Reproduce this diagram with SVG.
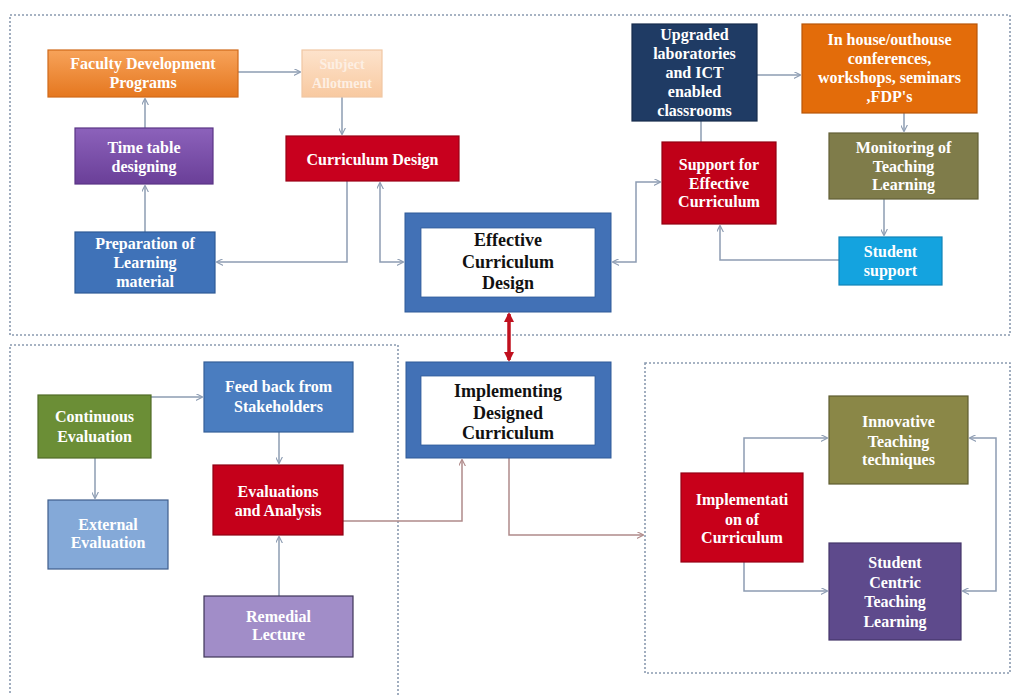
<svg xmlns="http://www.w3.org/2000/svg" width="1013" height="695" viewBox="0 0 1013 695">
<style>
.region{fill:none;stroke:#8a9ab0;stroke-width:1.6;stroke-dasharray:2 2}
.box{stroke-width:1.2}
.t{font-family:"Liberation Serif","Times New Roman",serif;font-weight:bold;font-size:16px;fill:#ffffff;text-anchor:middle}
.tb{font-family:"Liberation Serif","Times New Roman",serif;font-weight:bold;font-size:18px;fill:#111111;text-anchor:middle}
.c{fill:none;stroke:#8d9cb2;stroke-width:1.5}
.cr{fill:none;stroke:#b08a8a;stroke-width:1.5}
.frame{fill:#4271b6;stroke:#2f5a98;stroke-width:1}
.inner{fill:#ffffff;stroke:#2f5a98;stroke-width:0.8}
</style>
<defs>
<marker id="ah" viewBox="0 0 10 10" refX="9" refY="5" markerWidth="7" markerHeight="7" orient="auto-start-reverse" markerUnits="userSpaceOnUse">
<path d="M0,0 L10,5 L0,10" fill="none" stroke="#8d9cb2" stroke-width="1.6"/>
</marker>
<marker id="ahr" viewBox="0 0 10 10" refX="9" refY="5" markerWidth="7" markerHeight="7" orient="auto-start-reverse" markerUnits="userSpaceOnUse">
<path d="M0,0 L10,5 L0,10" fill="none" stroke="#b08a8a" stroke-width="1.6"/>
</marker>
<marker id="ahred" viewBox="0 0 10 10" refX="8" refY="5" markerWidth="10" markerHeight="10" orient="auto-start-reverse" markerUnits="userSpaceOnUse">
<path d="M0,0 L10,5 L0,10 Z" fill="#c0101e"/>
</marker>
<linearGradient id="gOr" x1="0" y1="0" x2="0" y2="1"><stop offset="0" stop-color="#f7a35a"/><stop offset="1" stop-color="#e5771f"/></linearGradient>
<linearGradient id="gPu" x1="0" y1="0" x2="0" y2="1"><stop offset="0" stop-color="#8c62bb"/><stop offset="1" stop-color="#6a3f98"/></linearGradient>
<linearGradient id="gPe" x1="0" y1="0" x2="0" y2="1"><stop offset="0" stop-color="#fde3cc"/><stop offset="1" stop-color="#f8c9a0"/></linearGradient>
</defs>
<rect width="1013" height="695" fill="#ffffff"/>

<g id="regions">
<rect class="region" x="10" y="15" width="1000" height="320"/>
<rect class="region" x="10" y="345" width="388" height="370"/>
<rect class="region" x="645" y="363" width="365" height="310"/>
</g>

<g id="connectors">
<path class="c" d="M238 72 H300" marker-end="url(#ah)"/>
<path class="c" d="M342 97 V134" marker-end="url(#ah)"/>
<path class="c" d="M145 128 V99" marker-end="url(#ah)"/>
<path class="c" d="M145 232 V186" marker-end="url(#ah)"/>
<path class="c" d="M347 181 V262 H217" marker-end="url(#ah)"/>
<path class="c" d="M380 183 V262 H403" marker-start="url(#ah)" marker-end="url(#ah)"/>
<path class="c" d="M613 262 H636 V182 H660" marker-start="url(#ah)" marker-end="url(#ah)"/>
<path class="c" d="M701 121 V142"/>
<path class="c" d="M757 75 H800" marker-end="url(#ah)"/>
<path class="c" d="M904 113 V131" marker-end="url(#ah)"/>
<path class="c" d="M884 199 V235" marker-end="url(#ah)"/>
<path class="c" d="M839 260 H720 V226" marker-end="url(#ah)"/>
<path d="M509 314 V360" fill="none" stroke="#c0101e" stroke-width="3.5" marker-start="url(#ahred)" marker-end="url(#ahred)"/>
<path class="c" d="M151 397 H202" marker-end="url(#ah)"/>
<path class="c" d="M95 458 V498" marker-end="url(#ah)"/>
<path class="c" d="M279 432 V463" marker-end="url(#ah)"/>
<path class="c" d="M279 596 V537" marker-end="url(#ah)"/>
<path class="cr" d="M343 521 H462 V460" marker-end="url(#ahr)"/>
<path class="cr" d="M509 458 V535 H643" marker-end="url(#ahr)"/>
<path class="c" d="M744 473 V438 H827" marker-end="url(#ah)"/>
<path class="c" d="M744 562 V591 H827" marker-end="url(#ah)"/>
<path class="c" d="M970 438 H996 V591 H963" marker-start="url(#ah)" marker-end="url(#ah)"/>
</g>

<g id="faculty">
<rect class="box" x="48" y="50" width="190" height="47" fill="url(#gOr)" stroke="#d0691a"/>
<text class="t" x="143" y="69">Faculty Development</text>
<text class="t" x="143" y="88">Programs</text>
</g>
<g id="peach">
<rect class="box" x="302" y="50" width="80" height="47" fill="url(#gPe)" stroke="#f0c7a3"/>
<text class="t" x="342" y="69" style="fill:#fdefe3;font-size:14px">Subject</text>
<text class="t" x="342" y="88" style="fill:#fdefe3;font-size:14px">Allotment</text>
</g>
<g id="timetable">
<rect class="box" x="75" y="128" width="138" height="56" fill="url(#gPu)" stroke="#5a3585"/>
<text class="t" x="144" y="153">Time table</text>
<text class="t" x="144" y="172">designing</text>
</g>
<g id="curriculum-design">
<rect class="box" x="286" y="136" width="173" height="45" fill="#c8001e" stroke="#9a0015"/>
<text class="t" x="372.5" y="165">Curriculum Design</text>
</g>
<g id="preparation">
<rect class="box" x="75" y="232" width="140" height="61" fill="#3f72b8" stroke="#2d5a96"/>
<text class="t" x="145" y="249">Preparation of</text>
<text class="t" x="145" y="268">Learning</text>
<text class="t" x="145" y="287">material</text>
</g>
<g id="effective">
<rect class="frame" x="405" y="213" width="206" height="99"/>
<rect class="inner" x="421" y="228" width="174" height="69"/>
<text class="tb" x="508" y="246">Effective</text>
<text class="tb" x="508" y="268">Curriculum</text>
<text class="tb" x="508" y="289">Design</text>
</g>
<g id="upgraded">
<rect class="box" x="632" y="24" width="125" height="97" fill="#1f3b64" stroke="#162c4c"/>
<text class="t" x="694.5" y="40">Upgraded</text>
<text class="t" x="694.5" y="59">laboratories</text>
<text class="t" x="694.5" y="78">and ICT</text>
<text class="t" x="694.5" y="97">enabled</text>
<text class="t" x="694.5" y="116">classrooms</text>
</g>
<g id="inhouse">
<rect class="box" x="802" y="24" width="175" height="89" fill="#e36c0a" stroke="#b85508"/>
<text class="t" x="889.5" y="45">In house/outhouse</text>
<text class="t" x="889.5" y="64">conferences,</text>
<text class="t" x="889.5" y="83">workshops, seminars</text>
<text class="t" x="889.5" y="102">,FDP's</text>
</g>
<g id="support">
<rect class="box" x="662" y="142" width="114" height="82" fill="#c00018" stroke="#920012"/>
<text class="t" x="719" y="170">Support for</text>
<text class="t" x="719" y="189">Effective</text>
<text class="t" x="719" y="207">Curriculum</text>
</g>
<g id="monitoring">
<rect class="box" x="829" y="133" width="149" height="66" fill="#7f7c4a" stroke="#625f36"/>
<text class="t" x="903.5" y="153">Monitoring of</text>
<text class="t" x="903.5" y="172">Teaching</text>
<text class="t" x="903.5" y="190">Learning</text>
</g>
<g id="student-support">
<rect class="box" x="839" y="237" width="103" height="48" fill="#14a3df" stroke="#0f84b8"/>
<text class="t" x="890.5" y="257">Student</text>
<text class="t" x="890.5" y="276">support</text>
</g>
<g id="continuous">
<rect class="box" x="38" y="395" width="113" height="63" fill="#6b8e36" stroke="#506c27"/>
<text class="t" x="94.5" y="422">Continuous</text>
<text class="t" x="94.5" y="442">Evaluation</text>
</g>
<g id="external">
<rect class="box" x="48" y="500" width="120" height="69" fill="#84a9d8" stroke="#3f5e8c"/>
<text class="t" x="108" y="530">External</text>
<text class="t" x="108" y="548">Evaluation</text>
</g>
<g id="feedback">
<rect class="box" x="204" y="362" width="149" height="70" fill="#4a7dc0" stroke="#355f98"/>
<text class="t" x="278.5" y="392">Feed back from</text>
<text class="t" x="278.5" y="412">Stakeholders</text>
</g>
<g id="evaluations">
<rect class="box" x="213" y="465" width="130" height="70" fill="#c5001a" stroke="#8f0013"/>
<text class="t" x="278" y="497">Evaluations</text>
<text class="t" x="278" y="516">and Analysis</text>
</g>
<g id="remedial">
<rect class="box" x="204" y="596" width="149" height="61" fill="#a18dc8" stroke="#3e3558"/>
<text class="t" x="278.5" y="622">Remedial</text>
<text class="t" x="278.5" y="640">Lecture</text>
</g>
<g id="implementing">
<rect class="frame" x="406" y="362" width="205" height="96"/>
<rect class="inner" x="421" y="376" width="174" height="69"/>
<text class="tb" x="508" y="397">Implementing</text>
<text class="tb" x="508" y="419">Designed</text>
<text class="tb" x="508" y="439">Curriculum</text>
</g>
<g id="implementation">
<rect class="box" x="681" y="473" width="122" height="89" fill="#c8001a" stroke="#960014"/>
<text class="t" x="742" y="505">Implementati</text>
<text class="t" x="742" y="525">on of</text>
<text class="t" x="742" y="543">Curriculum</text>
</g>
<g id="innovative">
<rect class="box" x="829" y="396" width="139" height="88" fill="#8a8747" stroke="#5e5c30"/>
<text class="t" x="898.5" y="427">Innovative</text>
<text class="t" x="898.5" y="447">Teaching</text>
<text class="t" x="898.5" y="465">techniques</text>
</g>
<g id="student-centric">
<rect class="box" x="829" y="543" width="132" height="97" fill="#5e4a8c" stroke="#45366a"/>
<text class="t" x="895" y="568">Student</text>
<text class="t" x="895" y="588">Centric</text>
<text class="t" x="895" y="607">Teaching</text>
<text class="t" x="895" y="627">Learning</text>
</g>
</svg>
